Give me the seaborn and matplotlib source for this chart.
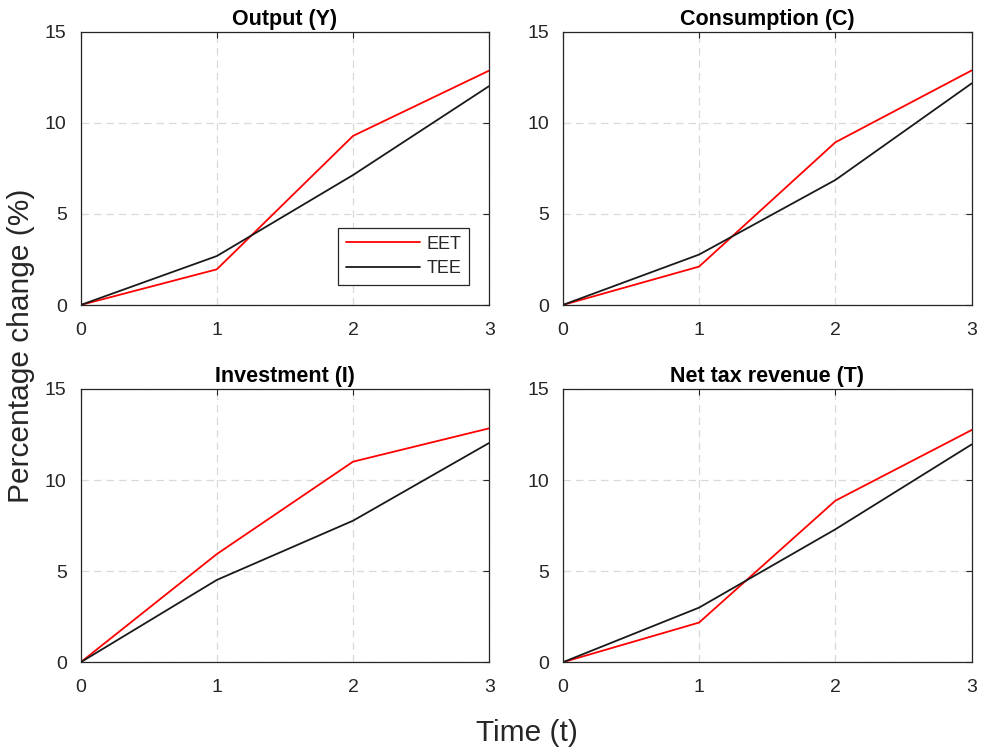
import matplotlib
matplotlib.use("Agg")
import matplotlib.pyplot as plt
import seaborn as sns
import pandas as pd

sns.set_theme(style="white")
plt.rcParams['font.family'] = ['Liberation Sans', 'DejaVu Sans']

t = [0, 1, 2, 3]
titles = ["Output (Y)", "Consumption (C)", "Investment (I)", "Net tax revenue (T)"]
eet_Y = [0, 1.96, 9.29, 12.88]
tee_Y = [0, 2.69, 7.14, 12.03]
eet_C = [0, 2.11, 8.94, 12.89]
tee_C = [0, 2.77, 6.87, 12.18]
eet_I = [0, 5.94, 11.01, 12.84]
tee_I = [0, 4.52, 7.77, 12.04]
eet_T = [0, 2.18, 8.87, 12.75]
tee_T = [0, 3.00, 7.30, 11.96]
series = [(eet_Y, tee_Y), (eet_C, tee_C), (eet_I, tee_I), (eet_T, tee_T)]
schemes = ["EET", "TEE"]
xticks = [0, 1, 2, 3]
yticks = [0, 5, 10, 15]

fig = plt.figure(figsize=(9.81, 7.47), dpi=100)
fig.patch.set_facecolor("white")
positions = [
    [0.0822, 0.5917, 0.4165, 0.3655],
    [0.5736, 0.5917, 0.4170, 0.3655],
    [0.0822, 0.1134, 0.4165, 0.3659],
    [0.5736, 0.1134, 0.4170, 0.3659],
]
axc = "#262626"
for i, (title, (eet, tee)) in enumerate(zip(titles, series)):
    ax = fig.add_axes(positions[i])
    df = pd.DataFrame({
        "t": t + t,
        "v": eet + tee,
        "scheme": [schemes[0]] * len(t) + [schemes[1]] * len(t),
    })
    sns.lineplot(data=df, x="t", y="v", hue="scheme",
                 palette={"EET": "#ff0000", "TEE": "#1a1a1a"},
                 linewidth=1.3, ax=ax, legend=(i == 0))
    ax.set_xlim(0, 3)
    ax.set_ylim(0, 15)
    ax.set_xticks(xticks)
    ax.set_yticks(yticks)
    ax.set_xlabel("")
    ax.set_ylabel("")
    ax.grid(True, linestyle=(0, (6, 4)), color="#d9d9d9", linewidth=0.9)
    ax.set_axisbelow(True)
    for s in ax.spines.values():
        s.set_color(axc)
        s.set_linewidth(0.9)
    ax.tick_params(direction="in", length=4, width=0.8, colors=axc,
                   labelsize=14, top=True, right=True)
    ax.tick_params(axis="x", pad=12)
    ax.tick_params(axis="y", pad=10)
    ax.set_title(title, fontsize=15.5, fontweight="bold", color="black", pad=5)
    if i == 0:
        leg = ax.legend(loc="lower right", fontsize=13, frameon=True,
                        fancybox=False, edgecolor=axc, framealpha=1,
                        handlelength=4.1, borderaxespad=1.1, labelspacing=0.4,
                        handletextpad=0.35, borderpad=0.45)
        leg.get_frame().set_linewidth(0.9)
        leg.set_title(None)

fig.text(0.021, 0.537, "Percentage change (%)", rotation=90, ha="center",
         va="center", fontsize=21.5, color=axc)
fig.text(0.537, 0.019, "Time (t)", ha="center", va="center",
         fontsize=21.5, color=axc)

fig.savefig("out.png", dpi=100)
